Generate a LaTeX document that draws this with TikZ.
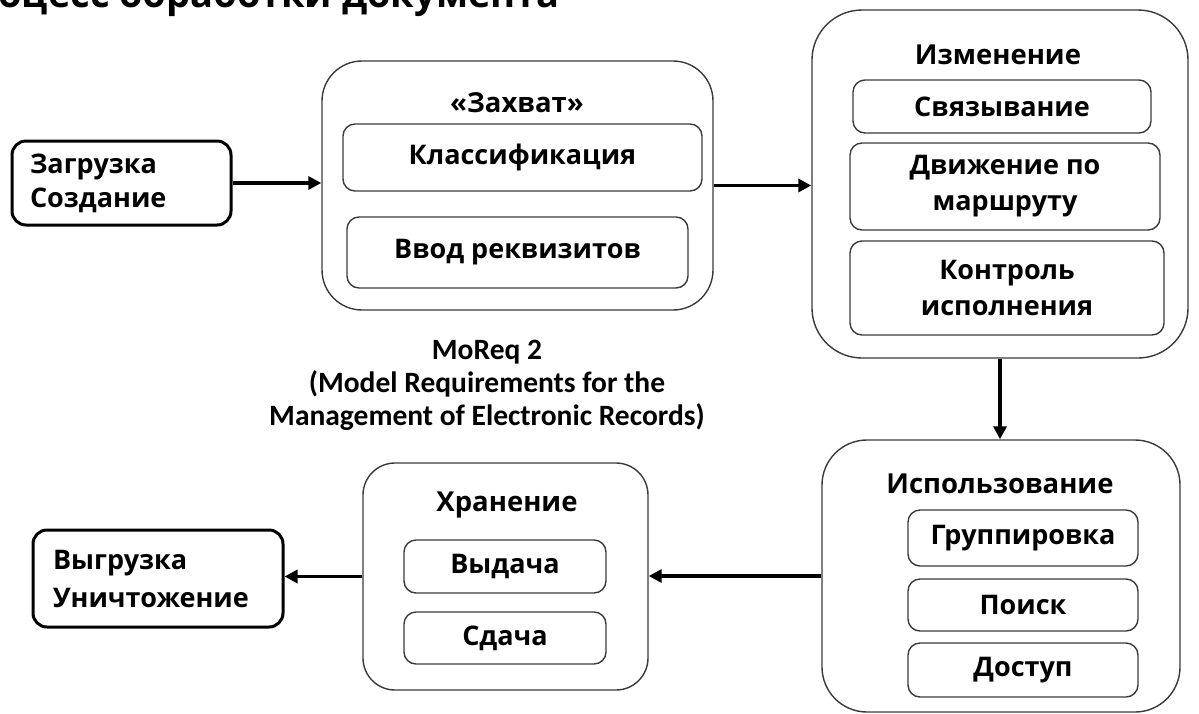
\documentclass[tikz,border=0pt]{standalone}
\usepackage{fontspec}
\setmainfont{Open Sans}[BoldFont={* Bold}]
\newfontfamily\notefont{Carlito}
\usetikzlibrary{arrows.meta}

\definecolor{frame}{HTML}{3A3A3A}

\tikzset{
  endbox/.style={draw=black, line width=3pt, rounded corners=14pt,
    align=left, font=\fontsize{27}{34}\selectfont\bfseries, inner sep=0pt},
  stagebox/.style={draw=frame, line width=1.4pt, inner sep=0pt},
  itembox/.style={draw=frame, line width=1.4pt, rounded corners=12pt,
    align=center, font=\fontsize{27}{36}\selectfont\bfseries, inner sep=0pt},
  stagetitle/.style={font=\fontsize{27.5}{32}\selectfont\bfseries, inner sep=0pt},
  flow/.style={line width=3.8pt, -{Triangle[length=13pt,width=13pt]}},
}

\begin{document}
\begin{tikzpicture}[x=1pt,y=-1pt]
\useasboundingbox (0,0) rectangle (1199,713);
\clip (0,0) rectangle (1199,713);

% heading, partly above the page
\node[anchor=base east, inner sep=0pt, font=\fontsize{38}{42}\selectfont\bfseries]
  (heading) at (560,7) {Процесс обработки документа};

% start and end of the life cycle
\node[endbox, minimum width=219pt, minimum height=84pt, text width=183pt]
  (load) at (121.5,183) {Загрузка\\Создание};
\node[endbox, minimum width=250pt, minimum height=97pt, text width=210pt,
  font=\fontsize{27}{38}\selectfont\bfseries]
  (unload) at (158,578.5) {Выгрузка\\Уничтожение};

% capture stage
\node[stagebox, rounded corners=40pt, minimum width=391pt, minimum height=249pt]
  (capture) at (517.5,185.5) {};
\node[stagetitle] (captureT) at (517,103) {«Захват»};
\node[itembox, minimum width=359pt, minimum height=67pt] (cls) at (522.5,157.5) {Классификация};
\node[itembox, minimum width=341pt, minimum height=71pt] (req) at (517.5,252.5) {Ввод реквизитов};

% change stage
\node[stagebox, rounded corners=50pt, minimum width=376pt, minimum height=348pt]
  (change) at (1000,184) {};
\node[stagetitle] (changeT) at (998,55) {Изменение};
\node[itembox, minimum width=298pt, minimum height=53pt] (link) at (1002,106.5) {Связывание};
\node[itembox, minimum width=310pt, minimum height=87pt] (route) at (1005,186.5) {Движение по\\маршруту};
\node[itembox, minimum width=314pt, minimum height=94pt] (ctrl) at (1007,288) {Контроль\\исполнения};

% use stage
\node[stagebox, rounded corners=45pt, minimum width=358pt, minimum height=272pt]
  (use) at (1001,576) {};
\node[stagetitle] (useT) at (1000,484) {Использование};
\node[itembox, minimum width=230pt, minimum height=56pt] (group) at (1023,538) {Группировка};
\node[itembox, minimum width=230pt, minimum height=52pt] (search) at (1023,605) {Поиск};
\node[itembox, minimum width=230pt, minimum height=54pt] (access) at (1023,670) {Доступ};

% storage stage
\node[stagebox, rounded corners=32pt, minimum width=285pt, minimum height=227pt]
  (store) at (505.5,576.5) {};
\node[stagetitle] (storeT) at (507,505) {Хранение};
\node[itembox, minimum width=202pt, minimum height=53pt] (issue) at (505,566.5) {Выдача};
\node[itembox, minimum width=202pt, minimum height=52pt] (hand) at (505,638) {Сдача};

% standard reference
\node[align=center, inner sep=0pt, font=\notefont\fontsize{29.5}{33}\selectfont\bfseries]
  (moreq) at (487,385) {MoReq 2\\(Model Requirements for the\\Management of Electronic Records)};

% flow of the document
\draw[flow] (load.east) -- (load.east -| capture.west);
\draw[flow] (capture.east) -- (capture.east -| change.west);
\draw[flow] (change.south) -- (change.south |- use.north);
\draw[flow] (use.west) -- (use.west -| store.east);
\draw[flow] (store.west) -- (store.west -| unload.east);
\end{tikzpicture}
\end{document}
